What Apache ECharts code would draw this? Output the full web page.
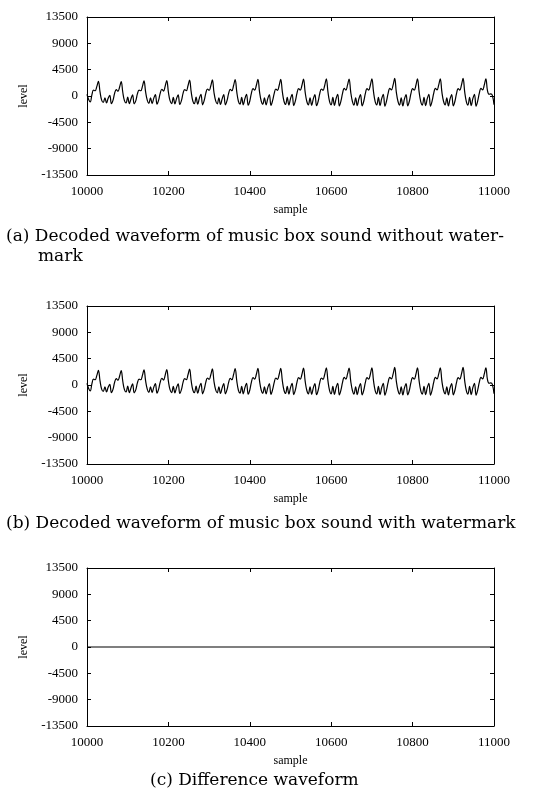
<!DOCTYPE html>
<html>
<head>
<meta charset="utf-8">
<script src="https://cdn.jsdelivr.net/npm/echarts@6/dist/echarts.min.js"></script>
<style>
html, body { margin: 0; padding: 0; background: #fff; }
#chart { width: 555px; height: 800px; }
</style>
</head>
<body>
<div id="chart"></div>
<script>
// 采样点 10000..11000，每4个样本读一个值
var sampleStart = 10000;
var sampleStep = 4;

// (a) 无水印解码波形（从图上读出的电平）
var levelNoMark = [
	300, -600, -1000, 200, 1000, 900, 1600,
	2500, 700, -700, -1100, -300, -1200, -400, 100, -1300, -700, 500, 1100, 800, 1500,
	2450, 600, -800, -1200, -200, -1300, -500, 200, -1350, -800, 400, 1000, 900, 1600,
	2600, 700, -700, -1250, -300, -1300, -400, 250, -1400, -700, 500, 1150, 850, 1650,
	2650, 650, -800, -1300, -250, -1350, -450, 200, -1450, -800, 450, 1100, 900, 1700,
	2700, 700, -850, -1300, -200, -1400, -400, 300, -1500, -750, 500, 1200, 950, 1700,
	2750, 600, -800, -1350, -300, -1450, -500, 250, -1500, -800, 450, 1150, 900, 1750,
	2800, 700, -900, -1400, -250, -1500, -450, 300, -1550, -850, 500, 1250, 1000, 1800,
	2850, 650, -850, -1400, -300, -1500, -500, 250, -1600, -800, 450, 1200, 950, 1750,
	2850, 700, -900, -1450, -250, -1550, -450, 300, -1650, -850, 500, 1250, 1000, 1800,
	2900, 650, -900, -1500, -300, -1600, -500, 250, -1650, -900, 450, 1200, 950, 1800,
	2950, 700, -950, -1500, -250, -1600, -450, 300, -1700, -850, 500, 1300, 1000, 1850,
	2900, 650, -900, -1550, -300, -1650, -500, 250, -1700, -900, 450, 1250, 1000, 1800,
	2950, 700, -950, -1500, -250, -1650, -450, 300, -1750, -850, 500, 1300, 1050, 1850,
	3000, 650, -900, -1550, -300, -1700, -500, 250, -1700, -900, 450, 1250, 1000, 1800,
	2950, 700, -950, -1550, -250, -1650, -450, 300, -1750, -850, 500, 1300, 1050, 1850,
	2950, 650, -900, -1500, -300, -1700, -500, 250, -1700, -900, 450, 1250, 1000, 1850,
	3000, 700, -950, -1550, -250, -1650, -450, 300, -1750, -850, 500, 1300, 1050, 1850,
	2950, 900, 300, 350, 100, -1500
];

// (b) 有水印解码波形：图上与(a)看不出差别
var levelWithMark = [
	300, -600, -1000, 200, 1000, 900, 1600,
	2500, 700, -700, -1100, -300, -1200, -400, 100, -1300, -700, 500, 1100, 800, 1500,
	2450, 600, -800, -1200, -200, -1300, -500, 200, -1350, -800, 400, 1000, 900, 1600,
	2600, 700, -700, -1250, -300, -1300, -400, 250, -1400, -700, 500, 1150, 850, 1650,
	2650, 650, -800, -1300, -250, -1350, -450, 200, -1450, -800, 450, 1100, 900, 1700,
	2700, 700, -850, -1300, -200, -1400, -400, 300, -1500, -750, 500, 1200, 950, 1700,
	2750, 600, -800, -1350, -300, -1450, -500, 250, -1500, -800, 450, 1150, 900, 1750,
	2800, 700, -900, -1400, -250, -1500, -450, 300, -1550, -850, 500, 1250, 1000, 1800,
	2850, 650, -850, -1400, -300, -1500, -500, 250, -1600, -800, 450, 1200, 950, 1750,
	2850, 700, -900, -1450, -250, -1550, -450, 300, -1650, -850, 500, 1250, 1000, 1800,
	2900, 650, -900, -1500, -300, -1600, -500, 250, -1650, -900, 450, 1200, 950, 1800,
	2950, 700, -950, -1500, -250, -1600, -450, 300, -1700, -850, 500, 1300, 1000, 1850,
	2900, 650, -900, -1550, -300, -1650, -500, 250, -1700, -900, 450, 1250, 1000, 1800,
	2950, 700, -950, -1500, -250, -1650, -450, 300, -1750, -850, 500, 1300, 1050, 1850,
	3000, 650, -900, -1550, -300, -1700, -500, 250, -1700, -900, 450, 1250, 1000, 1800,
	2950, 700, -950, -1550, -250, -1650, -450, 300, -1750, -850, 500, 1300, 1050, 1850,
	2950, 650, -900, -1500, -300, -1700, -500, 250, -1700, -900, 450, 1250, 1000, 1850,
	3000, 700, -950, -1550, -250, -1650, -450, 300, -1750, -850, 500, 1300, 1050, 1850,
	2950, 900, 300, 350, 100, -1500
];

// (c) 差分波形
var diffSamples = [10000, 11000];
var diffLevels = [0, 0];

var xTicks = [10000, 10200, 10400, 10600, 10800, 11000];
var yTicks = [-13500, -9000, -4500, 0, 4500, 9000, 13500];

var captions = [
	'(a) Decoded waveform of music box sound without water-',
	'mark',
	'(b) Decoded waveform of music box sound with watermark',
	'(c) Difference waveform'
];

function toPairs(levels) {
	var out = [];
	for (var i = 0; i < levels.length; i++) {
		out.push([sampleStart + i * sampleStep, levels[i]]);
	}
	return out;
}

var chart = echarts.init(document.getElementById('chart'));

var serif = 'Liberation Serif';
var tops = [17, 306, 568];
var grids = [], xAxes = [], yAxes = [];
var black = { color: '#000', width: 1 };

for (var g = 0; g < 3; g++) {
	grids.push({ left: 87, top: tops[g], width: 407, height: 158 });
	// 下方x轴
	xAxes.push({
		type: 'value', gridIndex: g,
		min: xTicks[0], max: xTicks[xTicks.length - 1], interval: 200,
		name: 'sample', nameLocation: 'middle', nameGap: 29,
		nameTextStyle: { fontFamily: serif, fontSize: 12, color: '#000' },
		axisLine: { onZero: false, lineStyle: black },
		axisTick: { inside: true, length: 4, lineStyle: black },
		axisLabel: { fontFamily: serif, fontSize: 13, color: '#000', margin: 10,
			formatter: function(v) { return String(v); } },
		splitLine: { show: false }
	});
	// 上方镜像刻度
	xAxes.push({
		type: 'value', gridIndex: g, position: 'top',
		min: xTicks[0], max: xTicks[xTicks.length - 1], interval: 200,
		axisLine: { onZero: false, lineStyle: black },
		axisTick: { inside: true, length: 4, lineStyle: black },
		axisLabel: { show: false },
		splitLine: { show: false }
	});
	// 左侧y轴
	yAxes.push({
		type: 'value', gridIndex: g,
		min: yTicks[0], max: yTicks[yTicks.length - 1], interval: 4500,
		name: 'level', nameLocation: 'middle', nameGap: 51, nameRotate: 90,
		nameTextStyle: { fontFamily: serif, fontSize: 12, color: '#000' },
		axisLine: { show: true, onZero: false, lineStyle: black },
		axisTick: { show: true, inside: true, length: 4, lineStyle: black },
		axisLabel: { fontFamily: serif, fontSize: 13, color: '#000', margin: 9,
			formatter: function(v) { return String(v); } },
		splitLine: { show: false }
	});
	// 右侧镜像刻度
	yAxes.push({
		type: 'value', gridIndex: g, position: 'right',
		min: yTicks[0], max: yTicks[yTicks.length - 1], interval: 4500,
		axisLine: { show: true, onZero: false, lineStyle: black },
		axisTick: { show: true, inside: true, length: 4, lineStyle: black },
		axisLabel: { show: false },
		splitLine: { show: false }
	});
}

var lineStyle = { color: '#000', width: 1.2 };
var diffPairs = [];
for (var d = 0; d < diffSamples.length; d++) {
	diffPairs.push([diffSamples[d], diffLevels[d]]);
}

var capFont = '17px "DejaVu Serif"';

var option = {
	animation: false,
	grid: grids,
	xAxis: xAxes,
	yAxis: yAxes,
	series: [{
		type: 'line', xAxisIndex: 0, yAxisIndex: 0, smooth: 0.4,
		data: toPairs(levelNoMark), showSymbol: false, lineStyle: lineStyle
	}, {
		type: 'line', xAxisIndex: 2, yAxisIndex: 2, smooth: 0.4,
		data: toPairs(levelWithMark), showSymbol: false, lineStyle: lineStyle
	}, {
		type: 'line', xAxisIndex: 4, yAxisIndex: 4,
		data: diffPairs, showSymbol: false, lineStyle: lineStyle
	}],
	graphic: [
		{ type: 'text', left: 6, top: 228, style: { text: captions[0], font: capFont, fill: '#000' } },
		{ type: 'text', left: 38, top: 248, style: { text: captions[1], font: capFont, fill: '#000' } },
		{ type: 'text', left: 6, top: 515, style: { text: captions[2], font: capFont, fill: '#000' } },
		{ type: 'text', left: 150, top: 772, style: { text: captions[3], font: capFont, fill: '#000' } }
	]
};

chart.setOption(option);
</script>
</body>
</html>
